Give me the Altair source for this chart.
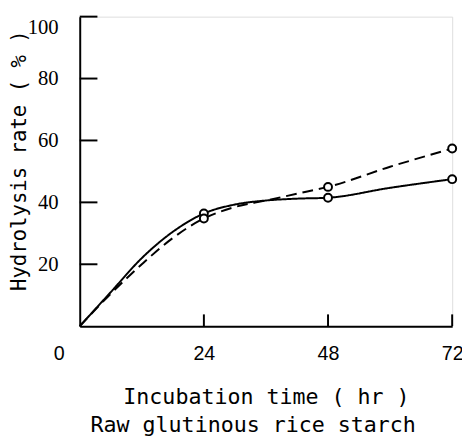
import altair as alt
import pandas as pd

# Curve readings (hours, % hydrolysis)
solid_t = [0, 6, 12, 18, 24, 30, 36, 42, 48, 60, 72]
solid_v = [0, 11, 22, 30.5, 36.4, 39.3, 40.6, 41.2, 41.5, 44.7, 47.5]
dashed_t = [0, 6, 12, 18, 24, 30, 36, 42, 48, 60, 72]
dashed_v = [0, 10.5, 20, 28.5, 34.8, 38.5, 40.6, 42.8, 45.0, 51.5, 57.4]
# Measured points (open circles)
pt_t = [24, 48, 72]
solid_pts = [36.4, 41.5, 47.5]
dashed_pts = [34.8, 45.0, 57.4]

x_ticks = [24, 48, 72]
y_ticks = [20, 40, 60, 80, 100]

lines = pd.DataFrame(
    {"t": solid_t + dashed_t,
     "v": solid_v + dashed_v,
     "s": ["solid"] * len(solid_t) + ["dashed"] * len(dashed_t)}
)
pts = pd.DataFrame(
    {"t": pt_t + pt_t, "v": solid_pts + dashed_pts,
     "s": ["solid"] * 3 + ["dashed"] * 3}
)

X = alt.X("t:Q", scale=alt.Scale(domain=[0, 72], nice=False, zero=True),
          axis=alt.Axis(values=x_ticks, ticks=False, labelPadding=18,
                        labelFont="Liberation Sans", labelFontSize=20,
                        labelColor="black", domainColor="black", domainWidth=2,
                        grid=False, title="Incubation time ( hr  )",
                        titleFont="DejaVu Sans Mono", titleFontSize=22,
                        titleFontWeight="normal", titleColor="black",
                        titleY=72, titleBaseline="middle", labelFlush=False))
Y = alt.Y("v:Q", scale=alt.Scale(domain=[0, 100], nice=False),
          axis=alt.Axis(values=y_ticks, ticks=False, labelPadding=22,
                        labelFont="Liberation Serif", labelFontSize=21,
                        labelColor="black", domainColor="black", domainWidth=2,
                        grid=False, title="Hydrolysis rate ( % )",
                        titleFont="DejaVu Sans Mono", titleFontSize=21,
                        titleFontWeight="normal", titleColor="black",
                        titleX=-61, titleY=146, titleAngle=-90,
                        titleAlign="center", titleBaseline="middle",
                        labelFlush=True))

line_layer = alt.Chart(lines).mark_line(
    color="black", strokeWidth=2, interpolate="monotone"
).encode(
    x=X, y=Y,
    detail="s:N",
    strokeDash=alt.StrokeDash("s:N", scale=alt.Scale(domain=["solid", "dashed"],
                                                      range=[[1, 0], [11, 6]]),
                              legend=None),
)

pt_layer = alt.Chart(pts).mark_point(
    shape="circle", size=65, filled=True, fill="white", stroke="black",
    strokeWidth=2, opacity=1
).encode(x="t:Q", y="v:Q")

xt = alt.Chart(pd.DataFrame({"t": x_ticks})).mark_tick(
    orient="vertical", size=12, thickness=2, color="black", yOffset=-6, opacity=1
).encode(x="t:Q", y=alt.datum(0))

yt = alt.Chart(pd.DataFrame({"v": y_ticks})).mark_tick(
    orient="horizontal", size=18, thickness=2, color="black", xOffset=9, opacity=1
).encode(y="v:Q", x=alt.datum(0))

origin = alt.Chart(pd.DataFrame({"t": [0], "v": [0], "lab": ["0"]})).mark_text(
    font="Liberation Sans", fontSize=20, color="black", dx=-21, dy=28
).encode(x="t:Q", y="v:Q", text="lab:N")

chart = alt.layer(line_layer, xt, yt, pt_layer, origin).properties(
    width=379, height=315,
    autosize=alt.AutoSizeParams(type="none"),
    padding={"left": 73, "top": 5, "right": 10, "bottom": 110},
    title=alt.TitleParams("Raw glutinous rice starch", orient="bottom",
                          anchor="middle", font="DejaVu Sans Mono", fontSize=22,
                          fontWeight="normal", color="black", offset=8, dx=-13),
).configure_view(stroke=None).configure(background="white")

chart.save("out.html", embed_options={"renderer": "svg", "actions": False})
